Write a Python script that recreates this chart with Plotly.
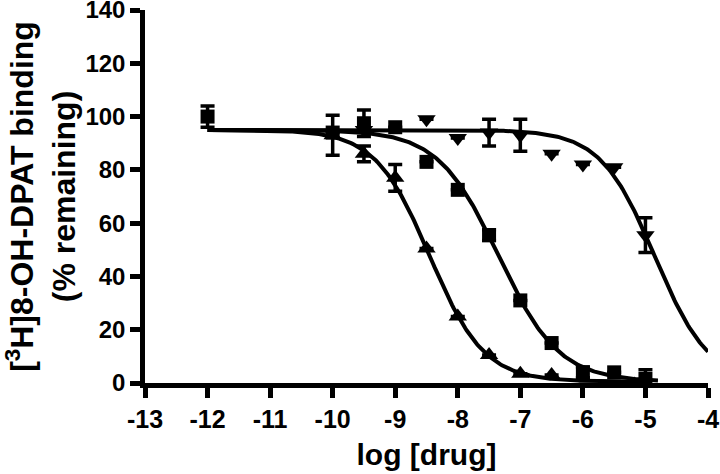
import numpy as np
import plotly.graph_objects as go

# ---- data ----
sq_x = [-12, -10, -9.5, -9, -8.5, -8, -7.5, -7, -6.5, -6, -5.5, -5]
sq_y = [100, 94, 97.5, 96, 83, 72.5, 55.5, 31, 15, 4, 4, 1.5]
sq_err = [4, 0, 5, 0, 0, 0, 2, 0, 0, 2, 0, 3.5]

tri_x = [-10, -9.5, -9, -8.5, -8, -7.5, -7, -6.5]
tri_y = [93, 86, 77, 50.5, 25, 10.5, 3.5, 3]
tri_err = [7.5, 3, 5, 0, 0, 0, 0, 0]

inv_x = [-9.5, -8.5, -8, -7.5, -7, -6.5, -6, -5.5, -5]
inv_y = [95, 99, 92, 94, 93, 86, 82, 81, 55.5]
inv_err = [0, 0, 0, 5, 6, 0, 0, 0, 6.5]

# fitted sigmoid parameters: [top, bottom, logIC50, hill slope, x start, x end]
sq_fit = [95, 0.5, -7.35, 0.9, -12, -4.8]
tri_fit = [95, 0.5, -8.45, 1.0, -12, -5]
inv_fit = [95, 0, -4.85, 1.0, -12, -4]

x_ticks = [-13, -12, -11, -10, -9, -8, -7, -6, -5, -4]
y_ticks = [0, 20, 40, 60, 80, 100, 120, 140]


def curve(p):
    top, bot, c, h, x0, x1 = p
    xs = np.linspace(x0, x1, 300)
    ys = bot + (top - bot) / (1 + 10 ** (h * (xs - c)))
    return xs, ys


fig = go.Figure()
for p in (sq_fit, tri_fit, inv_fit):
    xs, ys = curve(p)
    fig.add_trace(go.Scatter(x=xs, y=ys, mode="lines",
                             line=dict(color="black", width=4),
                             hoverinfo="skip", cliponaxis=False))


def err(e):
    return dict(type="data", array=e, visible=True, color="black",
                thickness=3.5, width=7)


fig.add_trace(go.Scatter(x=sq_x, y=sq_y, mode="markers", error_y=err(sq_err),
                         marker=dict(symbol="square", size=14, color="black"),
                         cliponaxis=False))
fig.add_trace(go.Scatter(x=tri_x, y=tri_y, mode="markers", error_y=err(tri_err),
                         marker=dict(symbol="triangle-up", size=16, color="black"),
                         cliponaxis=False))
fig.add_trace(go.Scatter(x=inv_x, y=inv_y, mode="markers", error_y=err(inv_err),
                         marker=dict(symbol="triangle-down", size=16, color="black"),
                         cliponaxis=False))

font_fam = "Liberation Sans, Arial, sans-serif"
fig.update_layout(
    width=720, height=474,
    margin=dict(l=145, r=12, t=10, b=91),
    paper_bgcolor="white", plot_bgcolor="white",
    showlegend=False,
    font=dict(family=font_fam, color="black"),
)
fig.update_xaxes(
    range=[-13, -4], tickvals=x_ticks, ticktext=[str(v) for v in x_ticks],
    showline=True, linecolor="black", linewidth=4.5,
    ticks="outside", ticklen=10, tickwidth=4.5, tickcolor="black",
    showgrid=False, zeroline=False, automargin=False,
    ticklabeloverflow="allow",
    tickfont=dict(size=25, family=font_fam, weight="bold"),
    title=dict(text="log [drug]", font=dict(size=30, family=font_fam, weight="bold"),
               standoff=14),
)
fig.update_yaxes(
    range=[0, 140], tickvals=y_ticks, ticktext=[str(v) for v in y_ticks],
    showline=True, linecolor="black", linewidth=4.5,
    ticks="outside", ticklen=10, tickwidth=4.5, tickcolor="black",
    showgrid=False, zeroline=False, automargin=False,
    ticklabeloverflow="allow",
    tickfont=dict(size=24, family=font_fam, weight="bold"),
    title=dict(text="[<sup>3</sup>H]8-OH-DPAT binding<br>(% remaining)",
               font=dict(size=32, family=font_fam, weight="bold"), standoff=14),
)

fig.write_html("out.html", config={"displayModeBar": False},
               post_script="document.body.style.margin='0';")
